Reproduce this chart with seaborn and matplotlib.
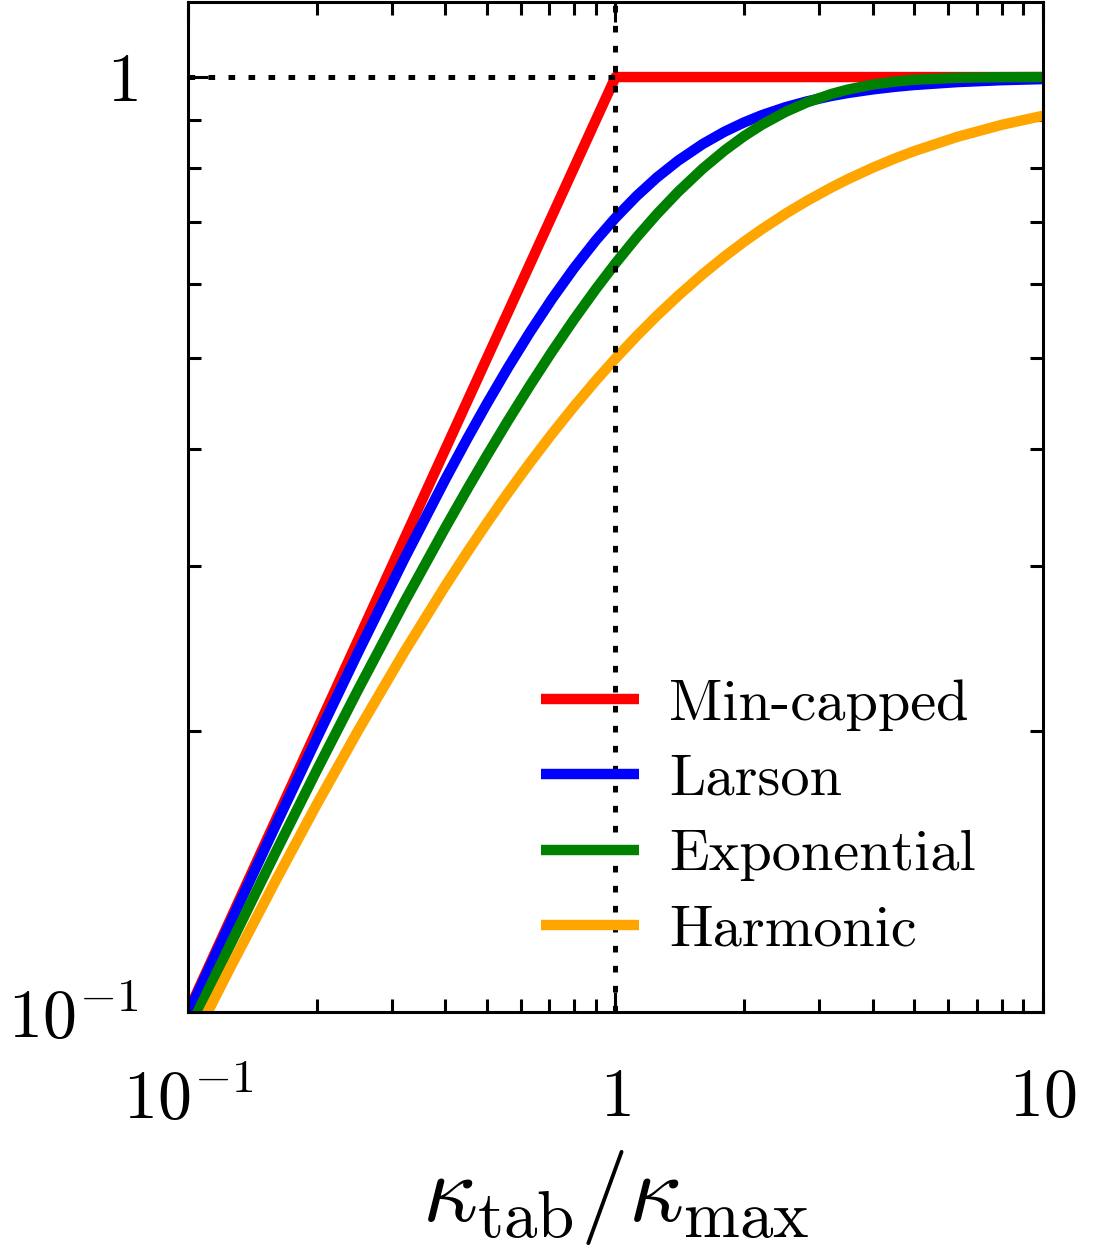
import matplotlib
matplotlib.use("Agg")
import matplotlib.pyplot as plt
from matplotlib.ticker import LogLocator, NullFormatter
import seaborn as sns
import pandas as pd

# Ratio kappa_tab / kappa_max
kappa_ratio = [0.1, 0.125, 0.16, 0.2, 0.25, 0.32, 0.4, 0.45, 0.5, 0.56, 0.63,
               0.71, 0.8, 0.9, 1.0, 1.12, 1.25, 1.4, 1.6, 1.8, 2.0, 2.2, 2.5,
               2.8, 3.2, 3.5, 4.0, 4.5, 5.0, 6.3, 8.0, 10.0]

# Limiter curves
min_capped_x = [0.1, 1.0, 10.0]
min_capped_y = [0.1, 1.0, 1.0]
larson_y = [0.0995, 0.1240, 0.1580, 0.1961, 0.2425, 0.3048, 0.3714, 0.4104,
            0.4472, 0.4886, 0.5330, 0.5789, 0.6247, 0.6690, 0.7071, 0.7459,
            0.7809, 0.8137, 0.8480, 0.8742, 0.8944, 0.9104, 0.9285, 0.9417,
            0.9545, 0.9615, 0.9701, 0.9762, 0.9806, 0.9876, 0.9923, 0.9950]
exponential_y = [0.0952, 0.1175, 0.1479, 0.1813, 0.2212, 0.2739, 0.3297, 0.3624,
                 0.3935, 0.4288, 0.4674, 0.5084, 0.5507, 0.5934, 0.6321, 0.6737,
                 0.7135, 0.7534, 0.7981, 0.8347, 0.8647, 0.8892, 0.9179, 0.9392,
                 0.9592, 0.9698, 0.9817, 0.9889, 0.9933, 0.9982, 0.9997, 1.0000]
harmonic_y = [0.0909, 0.1111, 0.1379, 0.1667, 0.2000, 0.2424, 0.2857, 0.3103,
              0.3333, 0.3590, 0.3865, 0.4152, 0.4444, 0.4737, 0.5000, 0.5283,
              0.5556, 0.5833, 0.6154, 0.6429, 0.6667, 0.6875, 0.7143, 0.7368,
              0.7619, 0.7778, 0.8000, 0.8182, 0.8333, 0.8630, 0.8889, 0.9091]

labels = ["Min-capped", "Larson", "Exponential", "Harmonic"]
colors = ["red", "blue", "green", "orange"]

x_ticks = [0.1, 1, 10]
x_ticklabels = [r"$10^{-1}$", r"$1$", r"$10$"]
y_ticks = [0.1, 1]
y_ticklabels = [r"$10^{-1}$", r"$1$"]
x_limits = (0.1, 10)
y_limits = (0.1, 1.203)
ref_x = 1.0
ref_y = 1.0

sns.set_style("ticks")
plt.rcParams.update({
    "font.family": "serif",
    "font.serif": ["cmr10", "DejaVu Serif"],
    "mathtext.fontset": "cm",
    "axes.unicode_minus": False,
    "axes.formatter.use_mathtext": True,
    "text.color": "black",
    "axes.labelcolor": "black",
    "xtick.color": "black",
    "ytick.color": "black",
    "axes.edgecolor": "black",
})

fig = plt.figure(figsize=(10.95, 12.56), dpi=100)
ax = fig.add_axes([0.1717, 0.1943, 0.7808, 0.8041])

lw = 7.5
series = [
    (min_capped_x, min_capped_y),
    (kappa_ratio, larson_y),
    (kappa_ratio, exponential_y),
    (kappa_ratio, harmonic_y),
]
for (xs, ys), lab, col in zip(series, labels, colors):
    df = pd.DataFrame({"x": xs, "y": ys})
    sns.lineplot(data=df, x="x", y="y", ax=ax, color=col, linewidth=lw,
                 label=lab, solid_joinstyle="round", solid_capstyle="butt")

# Dotted guide lines
dot_style = dict(color="black", linewidth=3.6, linestyle=(0, (1.33, 2.67)),
                 zorder=5)
ax.axvline(ref_x, **dot_style)
ax.plot([x_limits[0], ref_x], [ref_y, ref_y], **dot_style)

ax.set_xscale("log")
ax.set_yscale("log")
ax.set_xlim(*x_limits)
ax.set_ylim(*y_limits)

ax.set_xticks(x_ticks)
ax.set_xticklabels(x_ticklabels)
ax.set_yticks(y_ticks)
ax.set_yticklabels(y_ticklabels)
ax.xaxis.set_minor_locator(LogLocator(base=10, subs=[2, 3, 4, 5, 6, 7, 8, 9]))
ax.yaxis.set_minor_locator(LogLocator(base=10, subs=[2, 3, 4, 5, 6, 7, 8, 9]))
ax.xaxis.set_minor_formatter(NullFormatter())
ax.yaxis.set_minor_formatter(NullFormatter())

for side in ["top", "right", "bottom", "left"]:
    ax.spines[side].set_visible(True)
    ax.spines[side].set_linewidth(2.2)
    ax.spines[side].set_color("black")

ax.tick_params(which="both", direction="in", top=True, right=True,
               width=2.2, color="black", labelcolor="black")
ax.tick_params(which="major", length=14.4)
ax.tick_params(which="minor", length=9.4)
ax.tick_params(axis="x", which="major", labelsize=49, pad=40)
ax.tick_params(axis="y", which="major", labelsize=49, pad=36)

ax.set_xlabel(r"$\kappa_{\rm tab}/\kappa_{\rm max}$", fontsize=69, labelpad=12,
              color="black")
ax.set_ylabel("")

ax.legend(loc="center left", bbox_to_anchor=(0.413, 0.1926), frameon=False,
          fontsize=42, handlelength=1.67, handletextpad=0.52,
          labelspacing=0.40, borderpad=0, borderaxespad=0, labelcolor="black")

fig.savefig("out.png", dpi=100)
